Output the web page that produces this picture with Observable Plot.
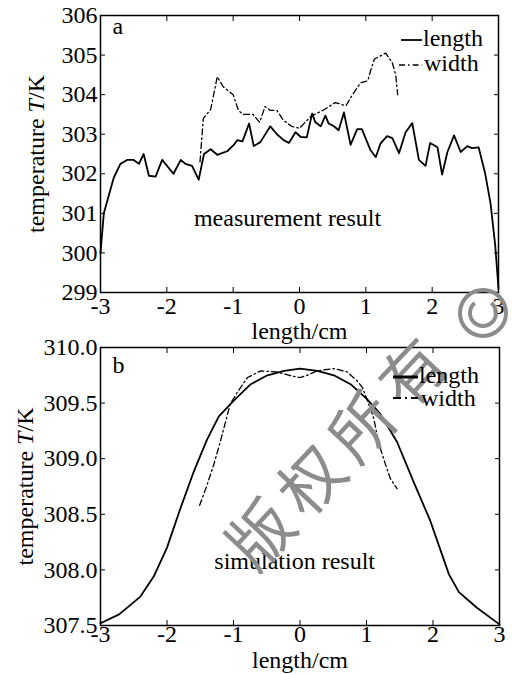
<!DOCTYPE html>
<html><head><meta charset="utf-8">
<script src="https://cdn.jsdelivr.net/npm/d3@7"></script>
<script src="https://cdn.jsdelivr.net/npm/@observablehq/plot@0.6"></script>
<style>
html,body{margin:0;padding:0;background:#fff}
body{width:512px;height:674px;overflow:hidden;position:relative;font-family:"Liberation Serif",serif}
#top,#bot{position:absolute;left:0}
#top{top:0}
#bot{top:337px}
#overlay{position:absolute;left:0;top:0;pointer-events:none}
</style></head><body>
<div id="top"></div><div id="bot"></div>
<svg id="overlay" width="512" height="674"></svg>
<script>
// ---- data ----
const xTicks = [-3, -2, -1, 0, 1, 2, 3];
const topYTicks = [299, 300, 301, 302, 303, 304, 305, 306];
const botYTicks = [307.5, 308, 308.5, 309, 309.5, 310];

const measLengthX = [-3.00,-2.95,-2.80,-2.70,-2.60,-2.50,-2.42,-2.35,-2.27,-2.17,-2.07,-1.90,-1.79,-1.72,-1.62,-1.52,-1.44,-1.34,-1.24,-1.17,-1.09,-0.99,-0.94,-0.86,-0.76,-0.69,-0.59,-0.44,-0.34,-0.24,-0.16,-0.06,0.02,0.11,0.19,0.24,0.32,0.39,0.44,0.52,0.59,0.67,0.77,0.87,0.94,1.07,1.15,1.22,1.32,1.40,1.50,1.60,1.70,1.80,1.90,1.97,2.08,2.15,2.23,2.33,2.43,2.53,2.60,2.70,2.80,2.88,2.95,3.00];
const measLengthT = [300.0,301.0,301.9,302.25,302.35,302.35,302.25,302.5,301.95,301.93,302.35,302.0,302.35,302.25,302.2,301.85,302.5,302.62,302.48,302.52,302.57,302.73,302.85,302.82,303.27,302.7,302.8,303.2,303.0,302.85,302.78,303.05,302.93,302.92,303.52,303.3,303.2,303.47,303.27,303.2,303.1,303.55,302.73,303.13,303.13,302.6,302.42,302.76,302.95,302.9,302.52,303.05,303.28,302.35,302.2,302.78,302.67,301.98,302.55,302.97,302.55,302.7,302.65,302.67,302.0,301.25,300.2,299.1];

const measWidthX = [-1.50,-1.45,-1.34,-1.24,-1.15,-1.00,-0.92,-0.85,-0.70,-0.60,-0.52,-0.44,-0.34,-0.24,-0.12,0.00,0.17,0.35,0.54,0.70,0.80,0.92,1.03,1.08,1.13,1.30,1.40,1.45,1.48];
const measWidthT = [302.3,303.4,303.62,304.45,304.2,304.0,303.6,303.5,303.5,303.3,303.7,303.6,303.6,303.35,303.2,303.15,303.45,303.6,303.8,303.72,304.0,304.3,304.35,304.65,304.9,305.05,304.8,304.5,304.0];

const simLengthX = [-3.0,-2.72,-2.40,-2.20,-2.0,-1.8,-1.6,-1.4,-1.22,-1.0,-0.74,-0.49,-0.24,0,0.26,0.51,0.76,1.0,1.21,1.46,1.71,1.96,2.24,2.39,2.66,3.0];
const simLengthT = [307.52,307.6,307.76,307.94,308.2,308.55,308.88,309.17,309.38,309.52,309.67,309.75,309.79,309.81,309.79,309.75,309.67,309.54,309.40,309.15,308.79,308.44,307.96,307.80,307.66,307.51];

const simWidthX = [-1.51,-1.40,-1.30,-1.20,-1.12,-1.05,-0.94,-0.79,-0.59,-0.35,-0.09,0,0.11,0.26,0.51,0.71,0.86,0.94,1.04,1.11,1.16,1.21,1.29,1.36,1.46];
const simWidthT = [308.58,308.76,308.94,309.15,309.33,309.49,309.60,309.73,309.79,309.78,309.74,309.73,309.75,309.79,309.81,309.78,309.70,309.64,309.48,309.36,309.21,309.09,308.94,308.82,308.73];

const seriesNames = ["length", "width"];
const panelLetters = ["a", "b"];
const panelNotes = ["measurement result", "simulation result"];
const yLabel = "temperature T/K";
const xLabel = "length/cm";
const watermark = "版权所有";

// ---- helpers ----
const toRows = (X, T) => X.map((x, i) => ({x, t: T[i]}));
const fmtX = d => d < 0 ? "-" + Math.abs(d) : String(d);
const FONT = "Liberation Serif";
const DASHDOT = "6,3,1.6,3";

function panel({yDomain, yTicks, yFmt, lengthRows, widthRows, margins, tickPadX, letterDy, ylabDx, xlabDy, note}) {
  const [mt, mr, mb, ml] = margins;
  const svg = Plot.plot({
    width: 512, height: 337,
    marginTop: mt, marginRight: mr, marginBottom: mb, marginLeft: ml,
    style: {fontFamily: FONT, fontSize: "24px", overflow: "visible", background: "transparent", color: "#000"},
    x: {domain: [-3, 3]},
    y: {domain: yDomain},
    marks: [
      Plot.axisX({anchor: "bottom", ticks: xTicks, tickSize: 0, tickPadding: tickPadX, tickFormat: fmtX, label: null, fontSize: 24}),
      Plot.axisX({anchor: "bottom", ticks: xTicks, tickSize: -5, tickFormat: () => "", label: null}),
      Plot.axisX({anchor: "top", ticks: xTicks, tickSize: -5, tickFormat: () => "", label: null}),
      Plot.axisY({anchor: "left", ticks: yTicks, tickSize: 0, tickPadding: 3, tickFormat: yFmt, label: null, fontSize: 24}),
      Plot.axisY({anchor: "left", ticks: yTicks, tickSize: -5, tickFormat: () => "", label: null}),
      Plot.axisY({anchor: "right", ticks: yTicks, tickSize: -5, tickFormat: () => "", label: null}),
      Plot.line(lengthRows, {x: "x", y: "t", stroke: "#000", strokeWidth: 1.8}),
      Plot.line(widthRows, {x: "x", y: "t", stroke: "#000", strokeWidth: 1.3, strokeDasharray: DASHDOT}),
      Plot.frame({stroke: "#000", strokeWidth: 1.5}),
      Plot.text([note.letter], {frameAnchor: "top-left", dx: 12, dy: letterDy, lineAnchor: "bottom", textAnchor: "start", fontSize: 24}),
      Plot.text([note], {x: "x", y: "y", text: "text", lineAnchor: "bottom", fontSize: 24}),
      Plot.text([yLabel], {frameAnchor: "left", dx: ylabDx, rotate: -90, textAnchor: "middle", lineAnchor: "middle", fontSize: 24}),
      Plot.text([xLabel], {frameAnchor: "bottom", dy: xlabDy, textAnchor: "middle", lineAnchor: "bottom", fontSize: 24})
    ]
  });
  const s = d3.select(svg);
  s.selectAll("text").style("font-family", "'Liberation Serif', serif");
  s.selectAll("text").filter(function () { return this.textContent === yLabel; }).each(function () {
    const t = d3.select(this);
    t.text(null);
    t.append("tspan").text("temperature ");
    t.append("tspan").attr("font-style", "italic").text("T");
    t.append("tspan").text("/K");
  });
  return svg;
}

const topSvg = panel({
  yDomain: [299, 306], yTicks: topYTicks, yFmt: d => String(d),
  lengthRows: toRows(measLengthX, measLengthT), widthRows: toRows(measWidthX, measWidthT),
  margins: [15, 14, 45, 100], tickPadX: 4, letterDy: 18, ylabDx: -64, xlabDy: 46,
  note: {letter: panelLetters[0], text: panelNotes[0], x: -0.18, y: 300.69}
});
document.getElementById("top").appendChild(topSvg);

const botSvg = panel({
  yDomain: [307.5, 310], yTicks: botYTicks, yFmt: d3.format(".1f"),
  lengthRows: toRows(simLengthX, simLengthT), widthRows: toRows(simWidthX, simWidthT),
  margins: [10, 13, 49, 100], tickPadX: -1, letterDy: 25, ylabDx: -75, xlabDy: 42,
  note: {letter: panelLetters[1], text: panelNotes[1], x: -0.08, y: 308.01}
});
document.getElementById("bot").appendChild(botSvg);

// ---- overlay: watermark, legends ----
const ov = d3.select("#overlay");
ov.append("text")
  .attr("transform", "translate(337,447) rotate(-46.8)")
  .attr("text-anchor", "middle").attr("dominant-baseline", "central")
  .style("font-family", "'Noto Sans CJK SC', sans-serif").attr("font-size", 64)
  .attr("letter-spacing", 10)
  .attr("fill", "#8c8c8c").text(watermark);
// copyright mark
ov.append("circle").attr("cx", 483).attr("cy", 313).attr("r", 23)
  .attr("fill", "none").attr("stroke", "#8c8c8c").attr("stroke-width", 4);
ov.append("path").attr("d", d3.arc()({innerRadius: 11, outerRadius: 15, startAngle: Math.PI * 0.22, endAngle: Math.PI * 1.78}))
  .attr("transform", "translate(483,313)").attr("fill", "#8c8c8c");

function legend(items) {
  items.forEach(it => {
    ov.append("line").attr("x1", it.x1).attr("x2", it.x2).attr("y1", it.ly).attr("y2", it.ly)
      .attr("stroke", "#000").attr("stroke-width", it.sw).attr("stroke-dasharray", it.dash || null);
    ov.append("text").attr("x", it.tx).attr("y", it.ty).attr("font-size", 24)
      .style("font-family", "'Liberation Serif', serif")
      .attr("fill", "#000").text(it.name);
  });
}
legend([
  {name: seriesNames[0], x1: 401, x2: 422, ly: 40, sw: 1.8, tx: 423, ty: 46},
  {name: seriesNames[1], x1: 399, x2: 422, ly: 65, sw: 1.3, dash: DASHDOT, tx: 424, ty: 71},
  {name: seriesNames[0], x1: 393, x2: 418, ly: 377, sw: 3, tx: 419, ty: 383},
  {name: seriesNames[1], x1: 393, x2: 418, ly: 398, sw: 2, dash: "8,4,2,4", tx: 421, ty: 406}
]);
</script>
</body></html>
